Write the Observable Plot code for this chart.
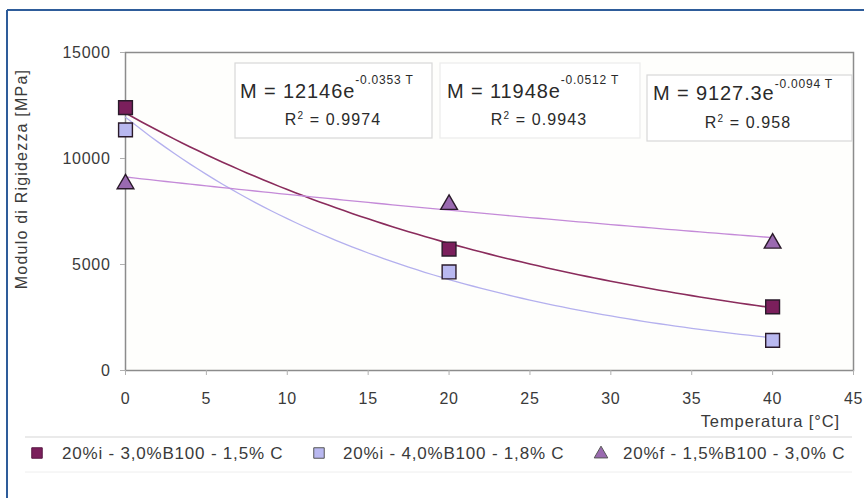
<!DOCTYPE html>
<html>
<head>
<meta charset="utf-8">
<script src="https://cdn.jsdelivr.net/npm/d3@7"></script>
<script src="https://cdn.jsdelivr.net/npm/@observablehq/plot@0.6"></script>
<style>
  html, body { margin: 0; padding: 0; background: #fff; }
  #wrap { position: relative; width: 864px; height: 498px; overflow: hidden; }
  #wrap svg text { letter-spacing: 0.7px; }
</style>
</head>
<body>
<div id="wrap"></div>
<script>
// ---- data ----
const temps = [0, 20, 40];
const seriesNames = [
  "20%i - 3,0%B100 - 1,5% C",
  "20%i - 4,0%B100 - 1,8% C",
  "20%f - 1,5%B100 - 3,0% C"
];
const series1 = [12400, 5730, 3000];
const series2 = [11350, 4650, 1420];
const series3 = [8800, 7830, 6000];
const coefA = [12146, 11948, 9127.3];
const coefB = [-0.0353, -0.0512, -0.0094];
const r2 = [0.9974, 0.9943, 0.958];
const xTicks = [0, 5, 10, 15, 20, 25, 30, 35, 40, 45];
const yTicks = [0, 5000, 10000, 15000];
const xTitle = "Temperatura [°C]";
const yTitle = "Modulo di Rigidezza [MPa]";

// ---- styles ----
const fills = ["#7b1f5c", "#b9b8f0", "#9a6ab0"];
const lineColors = ["#8a2c5c", "#b4b0ee", "#c48ad8"];
const symbols = ["square", "square", "triangle"];
const radii = [7.8, 7.8, 6.2];

const allSeries = [series1, series2, series3];
const points = [];
allSeries.forEach((vals, i) => vals.forEach((v, j) => points.push({s: i, T: temps[j], M: v})));

// trendline samples computed from the displayed fit coefficients
const trend = [];
coefA.forEach((a, i) => {
  d3.range(0, 40.001, 0.5).forEach(T => trend.push({s: i, T, M: a * Math.exp(coefB[i] * T)}));
});

const chart = Plot.plot({
  width: 864,
  height: 498,
  marginLeft: 125,
  marginRight: 11,
  marginTop: 52,
  marginBottom: 128,
  style: {fontFamily: "'Liberation Sans', Arial, sans-serif", fontSize: "16px", color: "#3a3a3a", background: "transparent", overflow: "visible"},
  x: {domain: [0, 45]},
  y: {domain: [0, 15000]},
  marks: [
    Plot.frame({fill: "#fefefc", stroke: "#8c8c8c", strokeWidth: 1.5}),
    Plot.axisX({ticks: xTicks, tickSize: 5, tickPadding: 17, label: null, stroke: "#b0b0b0", fill: "#3a3a3a"}),
    Plot.axisY({ticks: yTicks, tickSize: 5, tickPadding: 10, label: null, tickFormat: d3.format("d"), stroke: "#b0b0b0", fill: "#3a3a3a"}),
    ...[0, 1, 2].map(i => Plot.line(trend.filter(d => d.s === i), {x: "T", y: "M", stroke: lineColors[i], strokeWidth: i === 0 ? 1.6 : 1.3})),
    ...[0, 1, 2].map(i => Plot.dot(points.filter(d => d.s === i), {x: "T", y: "M", symbol: symbols[i], r: radii[i], fill: fills[i], stroke: "#2a1a2a", strokeWidth: 1.4}))
  ]
});
document.getElementById("wrap").appendChild(chart);

const svg = d3.select(chart);
const overlay = svg.append("g").attr("text-anchor", "start").attr("font-family", "'Liberation Sans', Arial, sans-serif");
// outer blue border
overlay.append("line").attr("x1", 7).attr("x2", 864).attr("y1", 10).attr("y2", 10).attr("stroke", "#2e5c9a").attr("stroke-width", 2);
overlay.append("line").attr("x1", 7).attr("x2", 7).attr("y1", 10).attr("y2", 498).attr("stroke", "#2e5c9a").attr("stroke-width", 2);

// axis titles
overlay.append("text").attr("x", 840).attr("y", 427).attr("text-anchor", "end")
  .attr("font-size", 16.5).attr("fill", "#3a3a3a").style("letter-spacing", "0.9px").text(xTitle);
overlay.append("text").attr("transform", "translate(27,179) rotate(-90)").attr("text-anchor", "middle")
  .attr("font-size", 16).attr("fill", "#3a3a3a").style("letter-spacing", "1.2px").text(yTitle);

// equation boxes
const boxes = [
  {x: 235, y: 63, w: 197, h: 75, mx: 240, my: 98, rx: 333, ry: 125, sup: -14, stroke: "#d8d8d8"},
  {x: 440, y: 63, w: 200, h: 75, mx: 447, my: 98, rx: 539, ry: 125, sup: -14, stroke: "#ececec"},
  {x: 647, y: 75, w: 205, h: 66, mx: 653, my: 100, rx: 748, ry: 128, sup: -12, stroke: "#d8d8d8"}
];
boxes.forEach((b, i) => {
  overlay.append("rect").attr("x", b.x).attr("y", b.y).attr("width", b.w).attr("height", b.h)
    .attr("fill", "#fff").attr("stroke", b.stroke).attr("stroke-width", 1.2);
  const t = overlay.append("text").attr("x", b.mx).attr("y", b.my).attr("text-anchor", "start").attr("font-size", 20).attr("fill", "#2a2a2a").style("letter-spacing", "0.9px");
  t.append("tspan").text(`M = ${coefA[i]}e`);
  t.append("tspan").attr("dy", b.sup).attr("font-size", 12).style("letter-spacing", "0.8px").text(`${coefB[i]} T`);
  const r = overlay.append("text").attr("x", b.rx).attr("y", b.ry).attr("text-anchor", "middle").attr("font-size", 16).attr("fill", "#2a2a2a").style("letter-spacing", "1.1px");
  r.append("tspan").text("R");
  r.append("tspan").attr("dy", -6).attr("font-size", 10).text("2");
  r.append("tspan").attr("dy", 6).text(` = ${r2[i]}`);
});

// legend
overlay.append("line").attr("x1", 25).attr("x2", 852).attr("y1", 437).attr("y2", 437).attr("stroke", "#d6d6d6").attr("stroke-width", 1.2);
overlay.append("line").attr("x1", 25).attr("x2", 852).attr("y1", 472).attr("y2", 472).attr("stroke", "#eeeeee").attr("stroke-width", 1);
const legendPos = [{mx: 37, tx: 62}, {mx: 319, tx: 343}, {mx: 601, tx: 623}];
seriesNames.forEach((name, i) => {
  const p = legendPos[i];
  const sym = d3.symbol().type(i === 2 ? d3.symbolTriangle : d3.symbolSquare).size(i === 2 ? 80 : 110);
  overlay.append("path").attr("d", sym()).attr("transform", `translate(${p.mx},${i === 2 ? 454 : 453})`)
    .attr("fill", fills[i]).attr("stroke", i === 0 ? "#5a1a45" : "#555").attr("stroke-width", 1);
  overlay.append("text").attr("x", p.tx).attr("y", 459).attr("text-anchor", "start").attr("font-size", 17).attr("fill", "#3a3a3a")
    .style("letter-spacing", "0.8px").text(name);
});
</script>
</body>
</html>
